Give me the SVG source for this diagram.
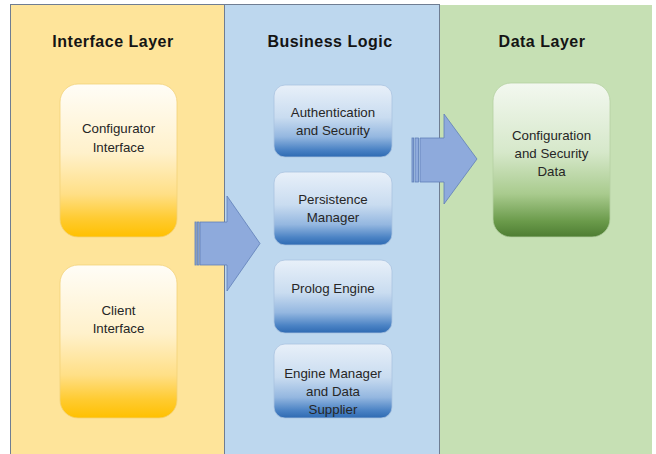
<svg xmlns="http://www.w3.org/2000/svg" width="656" height="454" viewBox="0 0 656 454">
<style>
.title{font-family:"Liberation Sans",Arial,sans-serif;font-size:16px;font-weight:bold;fill:#141414;text-anchor:middle;letter-spacing:0.5px}
.lbl{font-family:"Liberation Sans",Arial,sans-serif;font-size:13.3px;fill:#262626;text-anchor:middle}
.arrow{fill:#8eaadc;stroke:#5f7fb8;stroke-width:0.8}
</style>
<defs>
<linearGradient id="gY" x1="0" y1="0" x2="0" y2="1">
<stop offset="0" stop-color="#fffdf7"/>
<stop offset="0.45" stop-color="#fff1cb"/>
<stop offset="0.72" stop-color="#ffdf86"/>
<stop offset="0.88" stop-color="#ffcb30"/>
<stop offset="1" stop-color="#ffc000"/>
</linearGradient>
<linearGradient id="gB" x1="0" y1="0" x2="0" y2="1">
<stop offset="0" stop-color="#e8f0f9"/>
<stop offset="0.45" stop-color="#c9dcf0"/>
<stop offset="0.72" stop-color="#94b7e0"/>
<stop offset="0.9" stop-color="#4a82c4"/>
<stop offset="1" stop-color="#2e6ab2"/>
</linearGradient>
<linearGradient id="gG" x1="0" y1="0" x2="0" y2="1">
<stop offset="0" stop-color="#f3f8f0"/>
<stop offset="0.45" stop-color="#d6e8ca"/>
<stop offset="0.72" stop-color="#a9cb8e"/>
<stop offset="0.9" stop-color="#6a9a4a"/>
<stop offset="1" stop-color="#4e7d33"/>
</linearGradient>
</defs>

<g id="panels">
<rect x="10.5" y="4.5" width="215" height="460" fill="#fee49a" stroke="#6f7d92" stroke-width="1"/>
<rect x="224.5" y="4.5" width="215" height="460" fill="#bdd7ee" stroke="#6f7d92" stroke-width="1"/>
<rect x="440" y="5" width="212" height="460" fill="#c6e0b4"/>
<text class="title" x="113" y="47">Interface Layer</text>
<text class="title" x="330" y="47">Business Logic</text>
<text class="title" x="542" y="47">Data Layer</text>
</g>

<g id="connectors">
<g id="arrow1">
<rect class="arrow" x="195" y="222" width="1.2" height="43"/>
<rect class="arrow" x="197.3" y="222" width="1.8" height="43"/>
<path class="arrow" d="M200,222 H227 V196 L260,243.5 L227,291 V265 H200 Z"/>
</g>
<g id="arrow2">
<rect class="arrow" x="412" y="138" width="1.6" height="44"/>
<rect class="arrow" x="415" y="138" width="3.5" height="44"/>
<path class="arrow" d="M420,138 H444 V114 L477,159 L444,204 V182 H420 Z"/>
</g>
</g>

<g id="configurator-interface">
<rect x="60" y="84" width="117" height="153" rx="18" fill="url(#gY)" stroke="#f2d27a" stroke-width="0.8"/>
<text class="lbl" x="118.5" y="133">Configurator</text>
<text class="lbl" x="118.5" y="151.5">Interface</text>
</g>

<g id="client-interface">
<rect x="60" y="265" width="117" height="153" rx="18" fill="url(#gY)" stroke="#f2d27a" stroke-width="0.8"/>
<text class="lbl" x="118.5" y="315">Client</text>
<text class="lbl" x="118.5" y="333">Interface</text>
</g>

<g id="authentication-security">
<rect x="274" y="85" width="118" height="72" rx="11" fill="url(#gB)" stroke="#a9c3e0" stroke-width="0.8"/>
<text class="lbl" x="333" y="117">Authentication</text>
<text class="lbl" x="333" y="135">and Security</text>
</g>

<g id="persistence-manager">
<rect x="274" y="172" width="118" height="73" rx="11" fill="url(#gB)" stroke="#a9c3e0" stroke-width="0.8"/>
<text class="lbl" x="333" y="204">Persistence</text>
<text class="lbl" x="333" y="222">Manager</text>
</g>

<g id="prolog-engine">
<rect x="274" y="260" width="118" height="73" rx="11" fill="url(#gB)" stroke="#a9c3e0" stroke-width="0.8"/>
<text class="lbl" x="333" y="293">Prolog Engine</text>
</g>

<g id="engine-manager">
<rect x="274" y="344" width="118" height="74" rx="11" fill="url(#gB)" stroke="#a9c3e0" stroke-width="0.8"/>
<text class="lbl" x="333" y="378">Engine Manager</text>
<text class="lbl" x="333" y="396">and Data</text>
<text class="lbl" x="333" y="414">Supplier</text>
</g>

<g id="configuration-security-data">
<rect x="493" y="83" width="117" height="154" rx="18" fill="url(#gG)" stroke="#b5d1a2" stroke-width="0.8"/>
<text class="lbl" x="551.5" y="140">Configuration</text>
<text class="lbl" x="551.5" y="158">and Security</text>
<text class="lbl" x="551.5" y="176">Data</text>
</g>
</svg>
